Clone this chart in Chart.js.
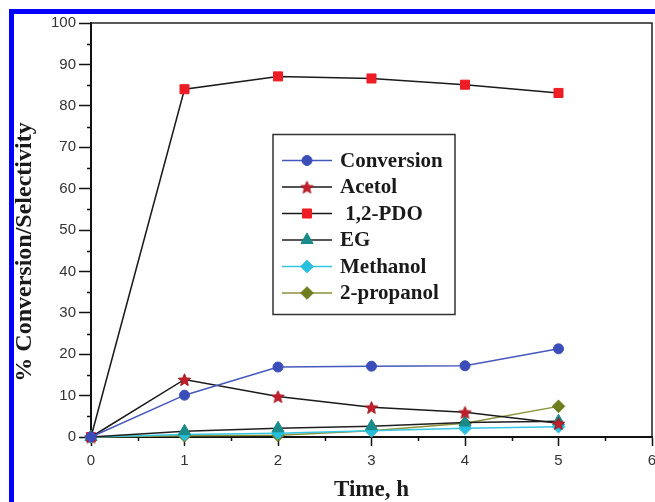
<!DOCTYPE html>
<html>
<head>
<meta charset="utf-8">
<script src="https://cdn.jsdelivr.net/npm/chart.js@4.4.1/dist/chart.umd.min.js"></script>
<style>
  html, body { margin: 0; padding: 0; overflow: hidden; background: #fff; }
  #wrap { position: relative; width: 655px; height: 502px; overflow: hidden; }
  #c { position: absolute; left: 0; top: 0; }
  #frame { position: absolute; left: 9px; top: 9px; width: 700px; height: 600px;
           border-left: 5px solid #0000ff; border-top: 5px solid #0000ff; pointer-events: none; }
</style>
</head>
<body>
<div id="wrap">
  <canvas id="c" width="663" height="502"></canvas>
  <div id="frame"></div>
</div>
<script>
// Reaction time (h) and product distribution (%)
const timeH      = [0, 1, 2, 3, 4, 5];
const conversion = [0, 10.1, 16.9, 17.1, 17.2, 21.3];
const acetol     = [0, 13.9, 9.8, 7.2, 6.0, 3.3];
const pdo        = [0, 84.0, 87.1, 86.6, 85.1, 83.1];
const eg         = [0, 1.4, 2.1, 2.6, 3.5, 3.8];
const methanol   = [0, 0.6, 0.9, 1.5, 2.1, 2.5];
const propanol   = [0, 0.3, 0.4, 1.5, 3.3, 7.4];

const seriesNames = ['Conversion', 'Acetol', ' 1,2-PDO', 'EG', 'Methanol', '2-propanol'];
const xTickValues = [0, 1, 2, 3, 4, 5, 6];
const yTickValues = [0, 10, 20, 30, 40, 50, 60, 70, 80, 90, 100];
const xTitle = 'Time, h';
const yTitle = '% Conversion/Selectivity';

// five-pointed filled star used as a point style
function makeStar(r, fill, stroke) {
  const c = document.createElement('canvas');
  const s = Math.ceil(r * 2 + 4);
  c.width = s; c.height = s;
  const g = c.getContext('2d');
  g.translate(s / 2, s / 2 + 0.8);
  g.beginPath();
  for (let i = 0; i < 10; i++) {
    const rr = i % 2 ? r * 0.45 : r;
    const a = -Math.PI / 2 + i * Math.PI / 5;
    g.lineTo(rr * Math.cos(a), rr * Math.sin(a));
  }
  g.closePath();
  g.fillStyle = fill; g.fill();
  g.strokeStyle = stroke; g.lineWidth = 1; g.stroke();
  return c;
}
const starImg = makeStar(6.5, '#c21f2b', '#a01820');

const pts = arr => timeH.map((t, i) => ({ x: t, y: arr[i] }));

function series(label, values, line, marker, style, radius) {
  return {
    label, data: pts(values),
    borderColor: line, borderWidth: 1.5,
    backgroundColor: marker,
    pointStyle: style, pointRadius: radius, pointHoverRadius: radius,
    pointBackgroundColor: marker, pointBorderColor: marker, pointBorderWidth: 1,
    tension: 0, clip: false, fill: false
  };
}

const datasets = [
  series(seriesNames[0], conversion, '#4658bd', '#3b4db8', 'circle', 5),
  series(seriesNames[1], acetol,     '#1a1a1a', '#c21f2b', starImg, 6.5),
  series(seriesNames[2], pdo,        '#1a1a1a', '#ee1c24', 'rect', 6.4),
  series(seriesNames[3], eg,         '#1f1f1f', '#1a8a8a', 'triangle', 7),
  series(seriesNames[4], methanol,   '#35c6e2', '#27bfe0', 'rectRot', 6.3),
  series(seriesNames[5], propanol,   '#8c913a', '#6e7e1f', 'rectRot', 6.3)
];

// frame on top/right, minor ticks, axis titles
const decorations = {
  id: 'decorations',
  afterDraw(chart) {
    const { ctx, chartArea: a, scales } = chart;
    ctx.save();
    ctx.strokeStyle = '#222';
    ctx.lineWidth = 1.5;
    ctx.beginPath();
    ctx.moveTo(a.left, a.top); ctx.lineTo(a.right, a.top); ctx.lineTo(a.right, a.bottom);
    ctx.stroke();

    ctx.lineWidth = 1.5;
    ctx.strokeStyle = '#111';
    ctx.beginPath();
    for (let v = 5; v < 100; v += 10) {
      const py = Math.round(scales.y.getPixelForValue(v)) + 0.5;
      ctx.moveTo(a.left - 4, py); ctx.lineTo(a.left, py);
    }
    for (let v = 0.5; v < 6; v += 1) {
      const px = Math.round(scales.x.getPixelForValue(v)) + 0.5;
      ctx.moveTo(px, a.bottom); ctx.lineTo(px, a.bottom + 4);
    }
    ctx.stroke();

    ctx.fillStyle = '#1a1a1a';
    ctx.font = 'bold 23px "Liberation Serif", "Times New Roman", serif';
    ctx.textAlign = 'center';
    ctx.textBaseline = 'middle';
    ctx.fillText(xTitle, (a.left + a.right) / 2, a.bottom + 53);
    ctx.font = 'bold 24px "Liberation Serif", "Times New Roman", serif';
    ctx.translate(25, a.top + 229);
    ctx.rotate(-Math.PI / 2);
    ctx.fillText(yTitle, 0, 0);
    ctx.restore();
  }
};

// boxed legend with line-and-marker samples
const boxLegend = {
  id: 'boxLegend',
  afterDraw(chart) {
    const { ctx, chartArea: a } = chart;
    const bx = a.left + 182, by = a.top + 111.5, bw = 182, bh = 180;
    ctx.save();
    ctx.fillStyle = '#fff';
    ctx.fillRect(bx, by, bw, bh);
    ctx.strokeStyle = '#333';
    ctx.lineWidth = 1.5;
    ctx.strokeRect(bx, by, bw, bh);
    ctx.font = 'bold 21px "Liberation Serif", "Times New Roman", serif';
    ctx.textBaseline = 'middle';
    ctx.textAlign = 'left';
    chart.data.datasets.forEach((ds, i) => {
      const y = by + 26 + i * 26.5;
      const x0 = bx + 9, x1 = bx + 59, xm = bx + 34;
      ctx.strokeStyle = ds.borderColor;
      ctx.lineWidth = 1.5;
      ctx.beginPath(); ctx.moveTo(x0, y); ctx.lineTo(x1, y); ctx.stroke();
      ctx.fillStyle = ds.pointBackgroundColor;
      ctx.strokeStyle = ds.pointBorderColor;
      ctx.lineWidth = 1;
      Chart.helpers.drawPoint(ctx, {
        pointStyle: ds.pointStyle, rotation: 0, radius: ds.pointRadius, borderWidth: 1
      }, xm, y);
      ctx.fillStyle = '#1a1a1a';
      ctx.fillText(ds.label, bx + 67, y + 1);
    });
    ctx.restore();
  }
};

const tickFont = { family: '"Liberation Sans", Arial, sans-serif', size: 15 };

new Chart(document.getElementById('c'), {
  type: 'line',
  data: { datasets },
  plugins: [decorations, boxLegend],
  options: {
    responsive: false,
    animation: false,
    devicePixelRatio: 1,
    layout: { padding: { top: 23, right: 11, left: 0, bottom: 0 } },
    plugins: { legend: { display: false }, tooltip: { enabled: false }, title: { display: false } },
    scales: {
      x: {
        type: 'linear', min: 0, max: 6,
        afterBuildTicks(s) { s.ticks = xTickValues.map(v => ({ value: v })); },
        ticks: { color: '#333', font: tickFont, padding: 6 },
        grid: { drawOnChartArea: false, drawTicks: true, tickLength: 9, tickWidth: 1.5, tickColor: '#111' },
        border: { color: '#111', width: 2 },
        afterFit(s) { s.height = 65; }
      },
      y: {
        type: 'linear', min: 0, max: 100,
        afterBuildTicks(s) { s.ticks = yTickValues.map(v => ({ value: v })); },
        ticks: { color: '#333', font: tickFont, padding: 3 },
        grid: { drawOnChartArea: false, drawTicks: true, tickLength: 12, tickWidth: 1.5, tickColor: '#111' },
        border: { color: '#111', width: 2 },
        afterFit(s) { s.width = 91; }
      }
    }
  }
});
</script>
</body>
</html>
